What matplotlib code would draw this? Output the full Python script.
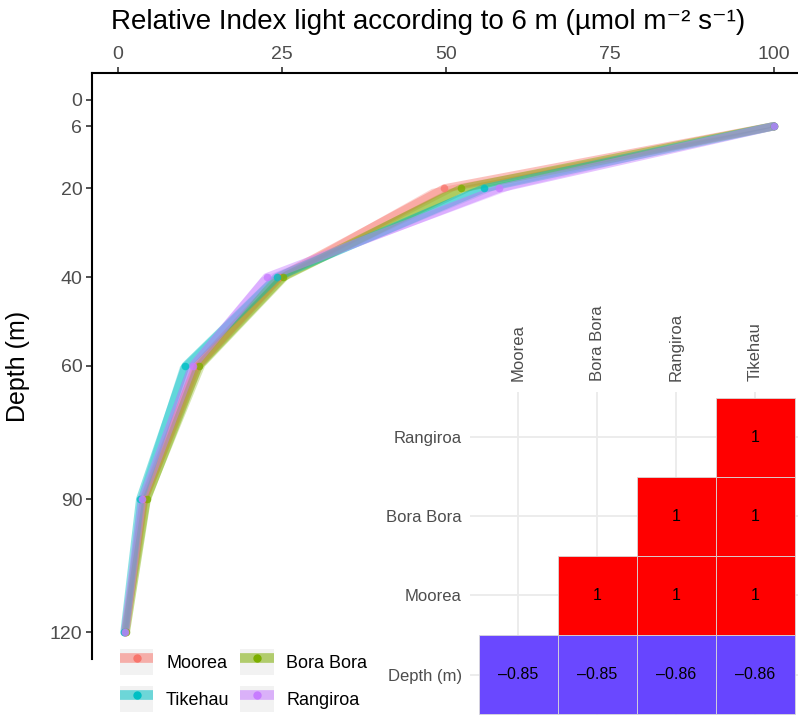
import numpy as np
import matplotlib.pyplot as plt
from matplotlib.lines import Line2D
from matplotlib.patches import Patch
from matplotlib.legend_handler import HandlerTuple
from matplotlib.colors import LinearSegmentedColormap

plt.rcParams['font.family'] = ['Liberation Sans', 'DejaVu Sans']

# light profile data (relative index, % of 6 m)
depths = [6, 20, 40, 60, 90, 120]
sites = ["Moorea", "Bora Bora", "Tikehau", "Rangiroa"]
moorea = [100, 49.8, 24.6, 12.0, 4.0, 1.1]
bora_bora = [100, 52.4, 25.2, 12.3, 4.4, 1.2]
tikehau = [100, 55.8, 24.2, 10.3, 3.4, 1.0]
rangiroa = [100, 58.2, 22.7, 11.4, 3.7, 1.1]
spread = [0.3, 2.0, 0.9, 0.9, 0.5, 0.3]
colors = ["#F8766D", "#7CAE00", "#00BFC4", "#C77CFF"]

# correlation matrix (rows bottom -> top, columns left -> right)
corr_cols = ["Moorea", "Bora Bora", "Rangiroa", "Tikehau"]
corr_rows = ["Depth (m)", "Moorea", "Bora Bora", "Rangiroa"]
corr_vals = [
    [-0.85, -0.85, -0.86, -0.86],
    [np.nan, 1, 1, 1],
    [np.nan, np.nan, 1, 1],
    [np.nan, np.nan, np.nan, 1],
]

W, H = 798, 715
fig = plt.figure(figsize=(W / 100, H / 100), dpi=100)

# main axes (extends a little past the right edge, like the original crop)
ax = fig.add_axes([92 / W, 1 - 659 / H, (806 - 92) / W, (659 - 73) / H])
series = [moorea, bora_bora, tikehau, rangiroa]
for vals, col in zip(series, colors):
    v = np.array(vals)
    s = np.array(spread)
    ax.fill_betweenx(depths, v - s, v + s, color=col, alpha=0.3, lw=0)
    ax.plot(vals, depths, color=col, lw=6, alpha=0.45, solid_capstyle='round')
    ax.scatter(vals, depths, color=col, s=30, alpha=0.8, lw=0, zorder=3)

ax.set_xlim(-3.95, 104.95)
ax.set_ylim(126, -6)
ax.xaxis.tick_top()
ax.set_xticks([0, 25, 50, 75, 100])
ax.set_yticks([0, 6, 20, 40, 60, 90, 120])
ax.tick_params(axis='both', labelsize=14, labelcolor='#4D4D4D', length=4,
               width=1.2, color='#333333', pad=3)
fig.text(428 / W, 1 - 22 / H,
         "Relative Index light according to 6 m (µmol m⁻² s⁻¹)",
         fontsize=20, ha='center', va='center')
ax.set_ylabel("Depth (m)", fontsize=18, labelpad=14)
for side in ['right', 'bottom']:
    ax.spines[side].set_visible(False)
for side in ['left', 'top']:
    ax.spines[side].set_linewidth(1.5)

handles = []
for col in colors:
    bg = Patch(facecolor='#F2F2F2', edgecolor='none')
    band = Line2D([0], [0], color=col, lw=7, alpha=0.55, solid_capstyle='butt')
    dot = Line2D([0], [0], color=col, marker='o', ms=5, lw=0)
    handles.append((bg, band, dot))
# 2 columns, row-wise order: Moorea, Bora Bora / Tikehau, Rangiroa
order = [0, 2, 1, 3]
leg = ax.legend([handles[i] for i in order], [sites[i] for i in order],
                handler_map={tuple: HandlerTuple(ndivide=1, pad=0)},
                ncol=2, frameon=False, fontsize=13, handlelength=1.85,
                handleheight=1.85, handletextpad=0.7, columnspacing=0.6,
                labelspacing=0.6, borderpad=0, loc='upper left',
                bbox_to_anchor=(111 / W, 1 - 640 / H),
                bbox_transform=fig.transFigure)

# correlation inset
cax = fig.add_axes([470 / W, 0, (798 - 470) / W, (715 - 392) / H])
cmap = LinearSegmentedColormap.from_list("bwr_gg", ["#5028FF", "#FFFFFF", "#FF0000"])
for i, row in enumerate(corr_vals):
    for j, val in enumerate(row):
        if np.isnan(val):
            continue
        cax.bar(j, 1, bottom=i - 0.5, width=1, color=cmap((val + 1) / 2),
                edgecolor='#D8D8D8', linewidth=0.6, zorder=2)
        txt = "1" if val == 1 else f"{val:.2f}".replace("-", "\u2013")
        cax.text(j, i, txt, ha='center', va='center', fontsize=11.5,
                 color='black', zorder=3)
cax.set_xlim(-0.61, 3.54)
cax.set_ylim(-0.51, 3.57)
cax.set_xticks(range(len(corr_cols)))
cax.set_xticklabels(corr_cols, rotation=90)
cax.set_yticks(range(len(corr_rows)))
cax.set_yticklabels(corr_rows)
cax.xaxis.tick_top()
cax.tick_params(length=0, labelsize=12, labelcolor='#4D4D4D')
cax.tick_params(axis='x', pad=8)
cax.tick_params(axis='y', pad=6)
cax.grid(True, color='#EBEBEB', lw=1.3)
cax.set_axisbelow(True)
cax.patch.set_alpha(0)
for sp in cax.spines.values():
    sp.set_visible(False)

fig.savefig("out.png", dpi=100)
